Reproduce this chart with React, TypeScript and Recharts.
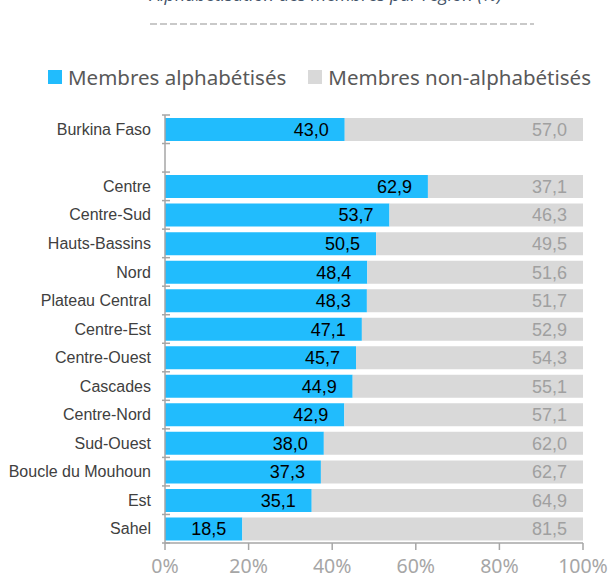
import React from "react";
import { BarChart, Bar, XAxis, YAxis, LabelList } from "recharts";

const regions = [
  "Burkina Faso",
  " ",
  "Centre",
  "Centre-Sud",
  "Hauts-Bassins",
  "Nord",
  "Plateau Central",
  "Centre-Est",
  "Centre-Ouest",
  "Cascades",
  "Centre-Nord",
  "Sud-Ouest",
  "Boucle du Mouhoun",
  "Est",
  "Sahel",
];

const literate = [43.0, null, 62.9, 53.7, 50.5, 48.4, 48.3, 47.1, 45.7, 44.9, 42.9, 38.0, 37.3, 35.1, 18.5];
const illiterate = [57.0, null, 37.1, 46.3, 49.5, 51.6, 51.7, 52.9, 54.3, 55.1, 57.1, 62.0, 62.7, 64.9, 81.5];

const xTicks = [0, 20, 40, 60, 80, 100];

const BLUE = "#21BCFD";
const GREY = "#D9D9D9";
const AXIS = "#A6A6A6";

const W = 608;
const H = 577;
const PLOT_TOP = 115;
const PLOT_BOTTOM = 543;
const AXIS_X = 165;
const BAND = (PLOT_BOTTOM - PLOT_TOP) / regions.length;

const data = regions.map((name, i) => ({
  name,
  alpha: literate[i],
  nonAlpha: illiterate[i],
}));

const fmt = (v: any) =>
  v === null || v === undefined ? "" : Number(v).toFixed(1).replace(".", ",");

// category label + tick marks on the band boundaries (Excel style)
function RegionTick(props: any) {
  const { y, payload, index } = props;
  return (
    <g>
      <text
        x={AXIS_X - 14}
        y={y}
        dy="0.35em"
        textAnchor="end"
        fontFamily="Liberation Sans, Arial, sans-serif"
        fontSize={16}
        fill="#404040"
      >
        {payload.value}
      </text>
      {index === 0 && (
        <line x1={AXIS_X - 3} x2={AXIS_X + 5} y1={y - BAND / 2} y2={y - BAND / 2} stroke={AXIS} strokeWidth={1.5} />
      )}
      <line x1={AXIS_X - 3} x2={AXIS_X + 5} y1={y + BAND / 2} y2={y + BAND / 2} stroke={AXIS} strokeWidth={1.5} />
    </g>
  );
}

export default function App() {
  return (
    <div style={{ position: "absolute", left: 0, top: 0, width: W, height: H, background: "#fff" }}>
      <svg width={W} height={40} style={{ position: "absolute", left: 0, top: 0 }}>
        <text
          x={502}
          y={1}
          textAnchor="end"
          fontFamily="Open Sans, sans-serif"
          fontStyle="italic"
          fontSize={18}
          fill="#44546A"
        >
          Alphabétisation des membres par région (%)
        </text>
        <line x1={150} x2={534} y1={24} y2={24} stroke="#C9C9C9" strokeWidth={2} strokeDasharray="7 3" />
      </svg>

      <div
        style={{
          position: "absolute",
          left: 48,
          top: 63,
          display: "flex",
          alignItems: "center",
          fontFamily: "Noto Sans, sans-serif",
          fontSize: 20.5,
          color: "#595959",
          whiteSpace: "nowrap",
        }}
      >
        <span style={{ width: 14, height: 14, background: BLUE, display: "inline-block", marginRight: 6 }} />
        <span>Membres alphabétisés</span>
        <span style={{ width: 14, height: 14, background: GREY, display: "inline-block", marginLeft: 22, marginRight: 6 }} />
        <span>Membres non-alphabétisés</span>
      </div>

      <div style={{ position: "absolute", left: 0, top: 0 }}>
        <BarChart
          width={W}
          height={H}
          data={data}
          layout="vertical"
          margin={{ top: PLOT_TOP, right: 25, bottom: 0, left: 0 }}
          barCategoryGap={0}
        >
          <XAxis
            type="number"
            domain={[0, 100]}
            ticks={xTicks}
            tickFormatter={(v) => `${v}%`}
            axisLine={{ stroke: AXIS, strokeWidth: 1.5 }}
            tickLine={{ stroke: AXIS, strokeWidth: 1.5 }}
            tickSize={7}
            tickMargin={9}
            tick={{ fill: AXIS, fontSize: 19.5, fontFamily: "Noto Sans, sans-serif" }}
            height={H - PLOT_BOTTOM}
            interval={0}
          />
          <YAxis
            type="category"
            dataKey="name"
            width={AXIS_X}
            axisLine={{ stroke: AXIS, strokeWidth: 1.5 }}
            tickLine={false}
            tick={<RegionTick />}
            interval={0}
          />
          <Bar dataKey="alpha" stackId="a" fill={BLUE} barSize={23} isAnimationActive={false}>
            <LabelList
              dataKey="alpha"
              position="insideRight"
              offset={16}
              formatter={fmt}
              fill="#000"
              fontSize={18}
              fontFamily="Liberation Sans, Arial, sans-serif"
            />
          </Bar>
          <Bar dataKey="nonAlpha" stackId="a" fill={GREY} barSize={23} isAnimationActive={false}>
            <LabelList
              dataKey="nonAlpha"
              position="insideRight"
              offset={16}
              formatter={fmt}
              fill="#A0A0A0"
              fontSize={18}
              fontFamily="Liberation Sans, Arial, sans-serif"
            />
          </Bar>
        </BarChart>
      </div>
    </div>
  );
}
